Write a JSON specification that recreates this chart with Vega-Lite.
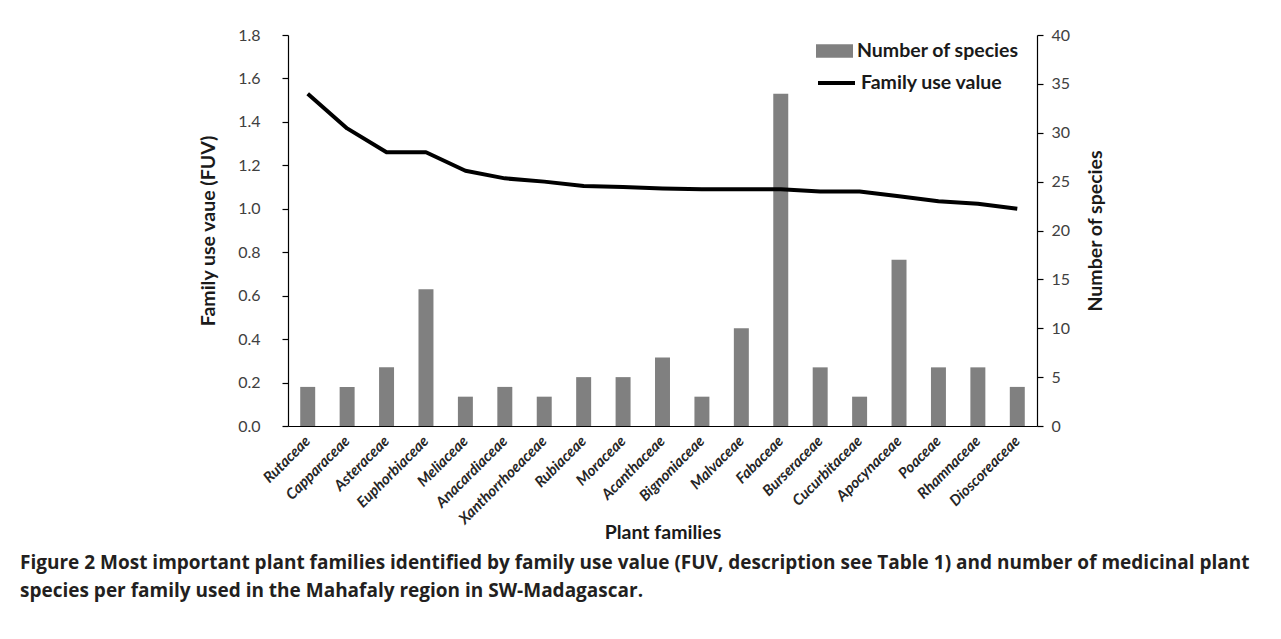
{
  "$schema": "https://vega.github.io/schema/vega-lite/v6.json",
  "width": 749,
  "height": 391,
  "autosize": {"type": "none"},
  "padding": {"left": 288, "top": 35, "right": 244, "bottom": 213},
  "background": "white",
  "config": {
    "view": {"stroke": null},
    "axis": {"grid": false, "domainColor": "#000000", "tickColor": "#000000", "domainWidth": 1.2, "tickWidth": 1.2}
  },
  "title": {
    "text": ["Figure 2 Most important plant families identified by family use value (FUV, description see Table 1) and number of medicinal plant", "species per family used in the Mahafaly region in SW-Madagascar."],
    "orient": "bottom",
    "anchor": "start",
    "frame": "group",
    "dx": -268,
    "offset": 12,
    "font": "Open Sans",
    "fontSize": 19,
    "fontWeight": "bold",
    "color": "#231f20",
    "lineHeight": 28
  },
  "data": {
    "values": [
      {"family": "Rutaceae", "fuv": 1.53, "species": 4},
      {"family": "Capparaceae", "fuv": 1.37, "species": 4},
      {"family": "Asteraceae", "fuv": 1.26, "species": 6},
      {"family": "Euphorbiaceae", "fuv": 1.26, "species": 14},
      {"family": "Meliaceae", "fuv": 1.175, "species": 3},
      {"family": "Anacardiaceae", "fuv": 1.14, "species": 4},
      {"family": "Xanthorrhoeaceae", "fuv": 1.125, "species": 3},
      {"family": "Rubiaceae", "fuv": 1.105, "species": 5},
      {"family": "Moraceae", "fuv": 1.1, "species": 5},
      {"family": "Acanthaceae", "fuv": 1.093, "species": 7},
      {"family": "Bignoniaceae", "fuv": 1.09, "species": 3},
      {"family": "Malvaceae", "fuv": 1.09, "species": 10},
      {"family": "Fabaceae", "fuv": 1.09, "species": 34},
      {"family": "Burseraceae", "fuv": 1.08, "species": 6},
      {"family": "Cucurbitaceae", "fuv": 1.08, "species": 3},
      {"family": "Apocynaceae", "fuv": 1.058, "species": 17},
      {"family": "Poaceae", "fuv": 1.035, "species": 6},
      {"family": "Rhamnaceae", "fuv": 1.023, "species": 6},
      {"family": "Dioscoreaceae", "fuv": 1.0, "species": 4}
    ]
  },
  "encoding": {
    "x": {
      "field": "family",
      "type": "nominal",
      "sort": null,
      "scale": {"paddingInner": 0.62, "paddingOuter": 0.31},
      "axis": {
        "title": "Plant families",
        "titleFont": "Lato",
        "titleFontSize": 19.5,
        "titleFontWeight": "bold",
        "titleColor": "#1a1a1a",
        "titleY": 106,
        "titleBaseline": "middle",
        "labelAngle": -45,
        "labelAlign": "right",
        "labelBaseline": "middle",
        "labelFont": "Lato",
        "labelFontSize": 15,
        "labelFontWeight": "bold",
        "labelFontStyle": "italic",
        "labelColor": "#262626",
        "labelPadding": 12,
        "ticks": false
      }
    }
  },
  "layer": [
    {
      "mark": {"type": "bar"},
      "encoding": {
        "y": {
          "field": "species",
          "type": "quantitative",
          "scale": {"domain": [0, 40], "nice": false},
          "axis": {
            "orient": "right",
            "values": [0, 5, 10, 15, 20, 25, 30, 35, 40],
            "title": "Number of species",
            "titleAngle": 270,
            "titleFont": "Lato",
            "titleFontSize": 19.5,
            "titleFontWeight": "bold",
            "titleColor": "#1a1a1a",
            "titlePadding": 36,
            "labelFont": "Lato",
            "labelFontSize": 16,
            "labelColor": "#404040",
            "labelPadding": 8,
            "tickSize": 6
          }
        },
        "fill": {
          "datum": "Number of species",
          "scale": {"range": ["#808080"]},
          "legend": {
            "title": null,
            "orient": "none",
            "legendX": 528,
            "legendY": -2.5,
            "padding": 0,
            "symbolType": "M-1,-0.36H1V0.36H-1Z",
            "symbolSize": 1369,
            "symbolStrokeWidth": 0,
            "labelFont": "Lato",
            "labelFontSize": 19.5,
            "labelFontWeight": "bold",
            "labelColor": "#1a1a1a",
            "labelOffset": 4,
            "labelLimit": 400
          }
        }
      }
    },
    {
      "mark": {"type": "line", "strokeWidth": 4, "strokeJoin": "round"},
      "encoding": {
        "y": {
          "field": "fuv",
          "type": "quantitative",
          "scale": {"domain": [0, 1.8], "nice": false},
          "axis": {
            "orient": "left",
            "values": [0, 0.2, 0.4, 0.6, 0.8, 1.0, 1.2, 1.4, 1.6, 1.8],
            "format": ".1f",
            "title": "Family use vaue (FUV)",
            "titleFont": "Lato",
            "titleFontSize": 19.5,
            "titleFontWeight": "bold",
            "titleColor": "#1a1a1a",
            "titlePadding": 19,
            "labelFont": "Lato",
            "labelFontSize": 16,
            "labelColor": "#404040",
            "labelPadding": 22,
            "tickSize": 6
          }
        },
        "stroke": {
          "datum": "Family use value",
          "scale": {"range": ["#000000"]},
          "legend": {
            "title": null,
            "orient": "none",
            "legendX": 528,
            "legendY": 27.5,
            "padding": 0,
            "symbolType": "stroke",
            "symbolSize": 1369,
            "symbolStrokeWidth": 4,
            "labelFont": "Lato",
            "labelFontSize": 19.5,
            "labelFontWeight": "bold",
            "labelColor": "#1a1a1a",
            "labelOffset": 4,
            "labelLimit": 400
          }
        }
      }
    }
  ],
  "resolve": {"scale": {"y": "independent"}}
}
